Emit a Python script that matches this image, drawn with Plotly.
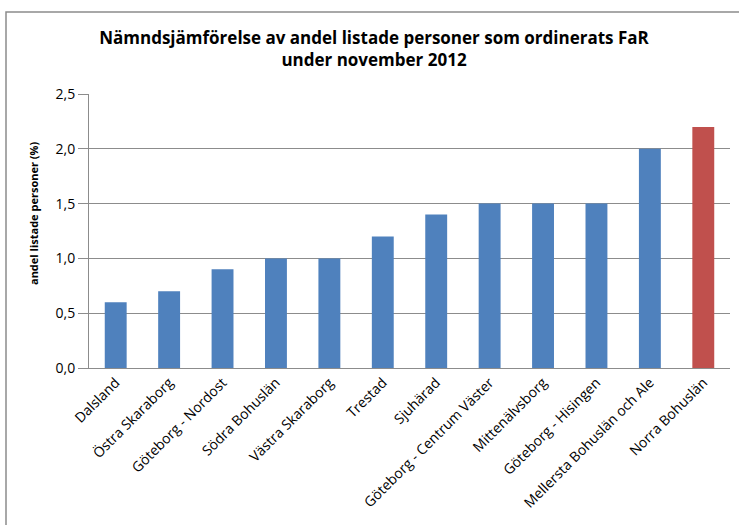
import plotly.graph_objects as go

# Nämnder och andel listade personer (%) som ordinerats FaR, november 2012
namnder = [
    "Dalsland", "Östra Skaraborg", "Göteborg - Nordost", "Södra Bohuslän",
    "Västra Skaraborg", "Trestad", "Sjuhärad", "Göteborg - Centrum Väster",
    "Mittenälvsborg", "Göteborg - Hisingen", "Mellersta Bohuslän och Ale",
    "Norra Bohuslän",
]
andel = [0.6, 0.7, 0.9, 1.0, 1.0, 1.2, 1.4, 1.5, 1.5, 1.5, 2.0, 2.2]
y_ticks = [0.0, 0.5, 1.0, 1.5, 2.0, 2.5]

BLUE = "#4f81bd"
RED = "#c0504d"
farger = [RED if n == "Norra Bohuslän" else BLUE for n in namnder]

W, H = 739, 525
ML, MR, MT, MB = 89, 9, 94, 157
pw, ph = W - ML - MR, H - MT - MB

fig = go.Figure(
    go.Bar(
        x=namnder,
        y=andel,
        marker=dict(color=farger, line=dict(width=0)),
        width=0.41,
    )
)

fig.update_layout(
    width=W,
    height=H,
    margin=dict(l=ML, r=MR, t=MT, b=MB),
    paper_bgcolor="white",
    plot_bgcolor="white",
    separators=",.",
    showlegend=False,
    font=dict(family="Open Sans, Lato, sans-serif", color="#000000"),
    title=dict(
        text="<b>Nämndsjämförelse av andel listade personer som ordinerats FaR"
             "<br>under november 2012</b>",
        x=374 / W,
        xanchor="center",
        y=1 - 44 / H,
        yanchor="middle",
        font=dict(size=17, family="Open Sans, sans-serif", color="#000000"),
    ),
    xaxis=dict(
        tickangle=-45,
        tickfont=dict(size=14, color="#000000"),
        showline=True,
        linecolor="#8c8c8c",
        linewidth=1,
        ticks="",
        showgrid=False,
    ),
    yaxis=dict(
        range=[0, 2.5],
        tickvals=y_ticks,
        tickformat=".1f",
        tickfont=dict(size=14, color="#000000"),
        showline=True,
        linecolor="#8c8c8c",
        linewidth=1,
        ticks="outside",
        ticklen=10,
        tickcolor="#8c8c8c",
        showgrid=True,
        gridcolor="#8c8c8c",
        gridwidth=1,
        zeroline=False,
    ),
    annotations=[
        dict(
            text="<b>andel listade personer (%)</b>",
            xref="paper",
            yref="paper",
            x=(33 - ML) / pw,
            y=(H - MB - 214) / ph,
            xanchor="center",
            yanchor="middle",
            textangle=-90,
            showarrow=False,
            font=dict(size=11, color="#000000"),
        )
    ],
    shapes=[
        dict(
            type="rect",
            xref="paper",
            yref="paper",
            x0=(6 - ML) / pw,
            x1=(W + 20 - ML) / pw,
            y0=-(MB + 20) / ph,
            y1=1 + (MT - 12) / ph,
            line=dict(color="#8c8c8c", width=1.5),
            fillcolor="rgba(0,0,0,0)",
            layer="below",
        )
    ],
)

fig.write_html("out.html")
